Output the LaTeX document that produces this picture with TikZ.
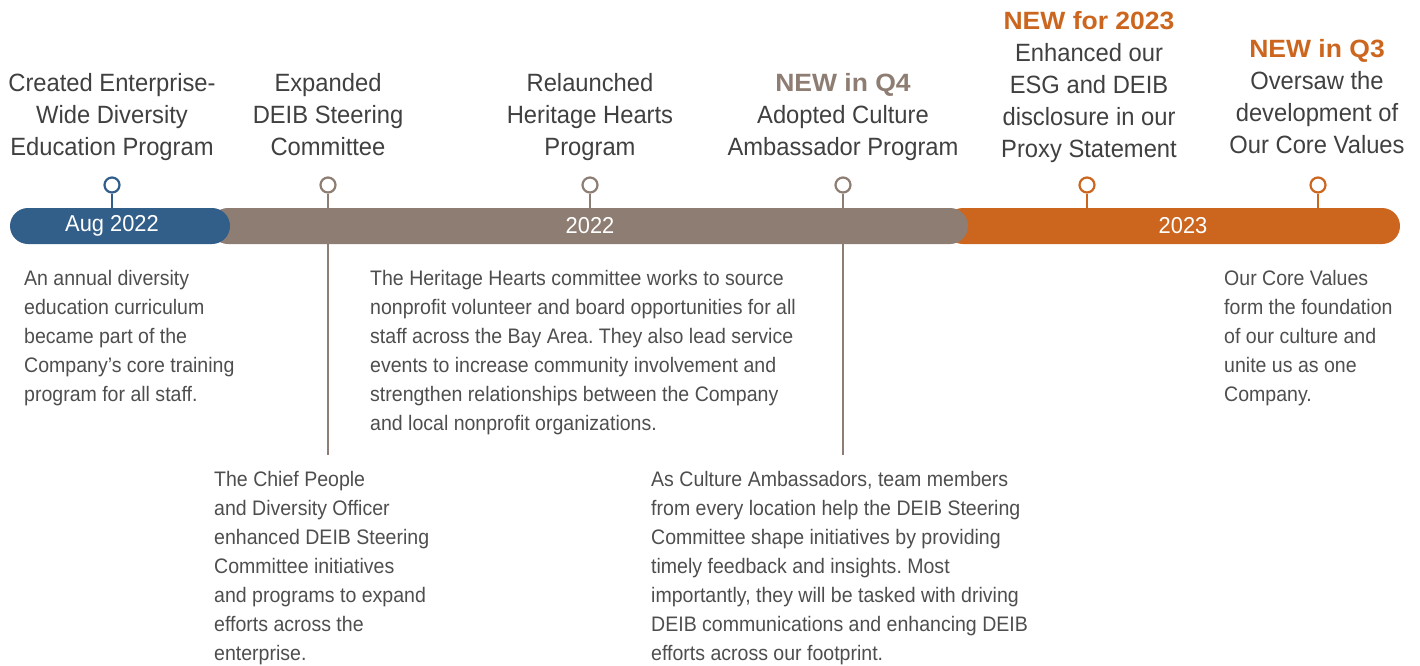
\documentclass[tikz,border=0pt]{standalone}
\usepackage{fontspec}
\setmainfont[FakeStretch=0.95, BoldFeatures={FakeStretch=1.06}]{Liberation Sans}
\newfontfamily\notefont[FakeStretch=0.93]{Liberation Sans}
\frenchspacing
\usetikzlibrary{positioning}
\definecolor{augblue}{RGB}{50,94,138}
\definecolor{taupe}{RGB}{142,125,114}
\definecolor{rust}{RGB}{204,102,30}
\definecolor{ink}{RGB}{64,64,64}
\definecolor{copy}{RGB}{78,78,78}

\tikzset{
  seg/.style={rounded corners=18pt, minimum height=36pt, inner sep=0pt},
  barlabel/.style={text=white, font=\fontsize{23}{28}\selectfont},
  pin/.style={circle, draw=#1, line width=2.2pt, fill=white, minimum size=15pt, inner sep=0pt},
  stem/.style={draw=#1, line width=2.2pt},
  struts/.style={execute at begin node=\strut, execute at end node=\strut},
  title/.style={align=center, inner sep=0pt, text=ink, struts, font=\fontsize{25}{32}\selectfont},
  blurb/.style={align=left, inner sep=0pt, anchor=north west, text=copy, struts, font=\notefont\fontsize{21}{29}\selectfont}
}

\begin{document}
\begin{tikzpicture}[x=1pt, y=-1pt]
  \useasboundingbox (0,0) rectangle (1420,665);

  % the bar, back to front
  \node[seg, fill=rust, minimum width=455pt] (y2023) at (1172.5,226) {};
  \node[seg, fill=taupe, minimum width=758pt] (y2022) at (589,226) {};
  \node[seg, fill=augblue, minimum width=220pt] (aug) at (120,226) {};
  \node[barlabel] at (112,226) {Aug 2022};
  \node[barlabel] at (590,226) {2022};
  \node[barlabel] at (1183,226) {2023};

  % pins
  \node[pin=augblue] (p1) at (112,185) {};
  \node[pin=taupe] (p2) at (328,185) {};
  \node[pin=taupe] (p3) at (590,185) {};
  \node[pin=taupe] (p4) at (843,185) {};
  \node[pin=rust] (p5) at (1087,185) {};
  \node[pin=rust] (p6) at (1318,185) {};
  \draw[stem=augblue] (p1) -- (p1 |- aug.north);
  \foreach \p in {p2,p3,p4} \draw[stem=taupe] (\p) -- (\p |- y2022.north);
  \foreach \p in {p5,p6} \draw[stem=rust] (\p) -- (\p |- y2023.north);

  % long drops to the lower notes
  \coordinate (d2) at (328,455);
  \coordinate (d4) at (843,455);
  \draw[stem=taupe] (p2 |- y2022.south) -- (d2);
  \draw[stem=taupe] (p4 |- y2022.south) -- (d4);

  % headings
  \node[title] (t1) at (112,119) {Created Enterprise-\\Wide Diversity\\Education Program};
  \node[title] (t2) at (328,119) {Expanded\\DEIB Steering\\Committee};
  \node[title] (t3) at (590,119) {Relaunched\\Heritage Hearts\\Program};
  \node[title] (t4) at (843,119) {{\color{taupe}\bfseries NEW in Q4}\\Adopted Culture\\Ambassador Program};
  \node[title] (t5) at (1089,89) {{\color{rust}\bfseries NEW for 2023}\\Enhanced our\\ESG and DEIB\\disclosure in our\\Proxy Statement};
  \node[title] (t6) at (1317,101) {{\color{rust}\bfseries NEW in Q3}\\Oversaw the\\development of\\Our Core Values};

  % notes
  \node[blurb] (n1) at (24,270) {An annual diversity\\education curriculum\\became part of the\\Company’s core training\\program for all staff.};
  \node[blurb] (n3) at (370,270) {The Heritage Hearts committee works to source\\nonprofit volunteer and board opportunities for all\\staff across the Bay Area. They also lead service\\events to increase community involvement and\\strengthen relationships between the Company\\and local nonprofit organizations.};
  \node[blurb] (n6) at (1224,270) {Our Core Values\\form the foundation\\of our culture and\\unite us as one\\Company.};
  \node[blurb] (n2) at (214,471) {The Chief People\\and Diversity Officer\\enhanced DEIB Steering\\Committee initiatives\\and programs to expand\\efforts across the\\enterprise.};
  \node[blurb] (n4) at (651,471) {As Culture Ambassadors, team members\\from every location help the DEIB Steering\\Committee shape initiatives by providing\\timely feedback and insights. Most\\importantly, they will be tasked with driving\\DEIB communications and enhancing DEIB\\efforts across our footprint.};
\end{tikzpicture}
\end{document}
